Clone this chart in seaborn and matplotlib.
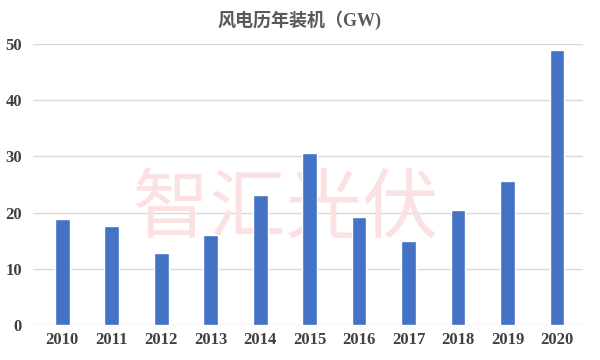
# 风电历年装机柱状图
import matplotlib
matplotlib.use('Agg')
import matplotlib.pyplot as plt
import seaborn as sns
import pandas as pd

# 数据
years = ['2010', '2011', '2012', '2013', '2014', '2015', '2016', '2017', '2018', '2019', '2020']
capacity_gw = [18.9, 17.6, 12.9, 16.0, 23.1, 30.6, 19.2, 15.0, 20.5, 25.6, 48.9]
y_ticks = [0, 10, 20, 30, 40, 50]
title_text = '风电历年装机（GW)'
watermark = '智汇光伏'

df = pd.DataFrame({'year': years, 'gw': capacity_gw})

sns.set_theme(style='white')
plt.rcParams['font.family'] = ['Liberation Serif', 'Noto Sans CJK SC', 'DejaVu Sans']

fig = plt.figure(figsize=(6, 3.6), dpi=100)
ax = fig.add_axes([0.055, 0.097, 0.917, 0.781])

ax.set_axisbelow(True)
ax.yaxis.grid(True, color='#d9d9d9', linewidth=1)

# 水印（在柱子下面）
ax.text(0.46, 0.41, watermark, transform=ax.transAxes, ha='center', va='center',
        fontsize=55, color='#fbe1e1', family=['Noto Sans CJK SC'], zorder=1)

sns.barplot(data=df, x='year', y='gw', color='#4472C4', width=0.3,
            saturation=1, ax=ax, zorder=2)

ax.set_ylim(0, 50)
ax.set_xlim(-0.59, 10.53)
ax.set_yticks(y_ticks)
ax.set_xlabel('')
ax.set_ylabel('')
sns.despine(ax=ax, left=True, bottom=True)
ax.tick_params(axis='both', length=0, labelsize=12, colors='#404040')
ax.tick_params(axis='x', pad=5)
ax.tick_params(axis='y', pad=8)
for lab in ax.get_xticklabels() + ax.get_yticklabels():
    lab.set_fontweight('bold')

# 标题
fig.text(0.5, 0.945, title_text, ha='center', va='center', fontsize=13,
         color='#595959', fontweight='bold',
         family=['Liberation Serif', 'Noto Sans CJK SC'])

fig.savefig('out.png', dpi=100)
